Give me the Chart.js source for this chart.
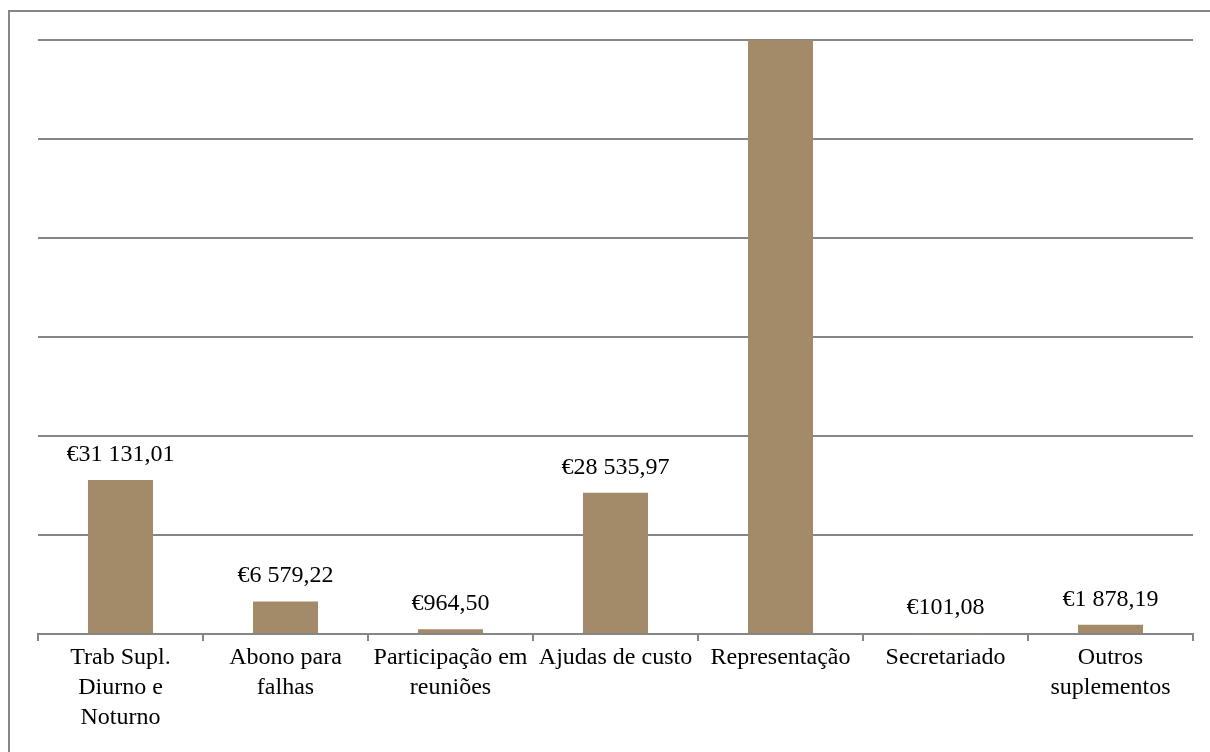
<!DOCTYPE html>
<html>
<head>
<meta charset="utf-8">
<script src="https://cdn.jsdelivr.net/npm/chart.js@4"></script>
<style>
  body { margin: 0; background: #fff; }
  #wrap { position: relative; width: 1210px; height: 752px; }
  #frame {
    position: absolute; left: 8px; top: 10px; right: 0; bottom: 0;
    border-left: 2px solid #868686; border-top: 2px solid #868686;
    pointer-events: none;
  }
</style>
</head>
<body>
<div id="wrap">
  <canvas id="costChart" width="1210" height="752"></canvas>
  <div id="frame"></div>
</div>
<script>
// categories and amounts (EUR)
const categories = [
  ['Trab Supl.', 'Diurno e', 'Noturno'],
  ['Abono para', 'falhas'],
  ['Participação em', 'reuniões'],
  'Ajudas de custo',
  'Representação',
  'Secretariado',
  ['Outros', 'suplementos']
];
const amounts = [31131.01, 6579.22, 964.50, 28535.97, 140000, 101.08, 1878.19];
const yTicks = [0, 20000, 40000, 60000, 80000, 100000, 120000];

const BAR_COLOR = '#A38B69';
const GRID_COLOR = '#868686';
const FONT = '"Liberation Serif", "DejaVu Serif", serif';

function euro(v) {
  const parts = v.toFixed(2).split('.');
  const intPart = parts[0].replace(/\B(?=(\d{3})+(?!\d))/g, ' ');
  return '€' + intPart + ',' + parts[1];
}

// value labels above each bar (skipped when the bar runs past the axis max)
const valueLabels = {
  id: 'valueLabels',
  afterDatasetsDraw(chart) {
    const { ctx } = chart;
    const meta = chart.getDatasetMeta(0);
    const yMax = chart.scales.y.max;
    ctx.save();
    ctx.font = '24px ' + FONT;
    ctx.fillStyle = '#000';
    ctx.textAlign = 'center';
    ctx.textBaseline = 'alphabetic';
    meta.data.forEach((bar, i) => {
      if (amounts[i] > yMax) return;
      ctx.fillText(euro(amounts[i]), bar.x, bar.y - 19);
    });
    ctx.restore();
  }
};

new Chart(document.getElementById('costChart'), {
  type: 'bar',
  data: {
    labels: categories,
    datasets: [{
      data: amounts,
      backgroundColor: BAR_COLOR,
      borderWidth: 0,
      barPercentage: 1,
      categoryPercentage: 0.394
    }]
  },
  options: {
    responsive: false,
    animation: false,
    layout: { padding: { left: 38, right: 17, top: 40, bottom: 0 } },
    plugins: {
      legend: { display: false },
      tooltip: { enabled: false }
    },
    scales: {
      x: {
        border: { color: GRID_COLOR, width: 2 },
        grid: {
          color: GRID_COLOR,
          lineWidth: 2,
          drawOnChartArea: false,
          drawTicks: true,
          tickLength: 7
        },
        ticks: {
          color: '#000',
          padding: 2,
          maxRotation: 0,
          autoSkip: false,
          font: { family: FONT, size: 24, lineHeight: 1.25 }
        },
        afterFit(scale) { scale.height = 118; }
      },
      y: {
        min: 0,
        max: 120000,
        afterBuildTicks(scale) { scale.ticks = yTicks.map(v => ({ value: v })); },
        border: { display: false },
        grid: { color: GRID_COLOR, lineWidth: 2, drawTicks: false },
        ticks: { display: false },
        afterFit(scale) { scale.width = 0; }
      }
    }
  },
  plugins: [valueLabels]
});
</script>
</body>
</html>
